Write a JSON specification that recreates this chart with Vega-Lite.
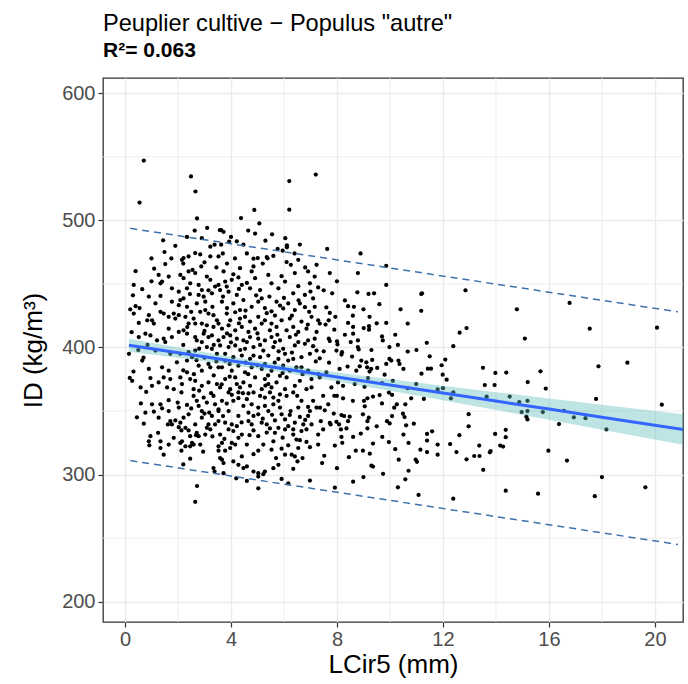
{
"$schema":"https://vega.github.io/schema/vega-lite/v6.json",
"width":580,"height":544,
"autosize":{"type":"none"},
"padding":{"left":103,"top":78,"right":5,"bottom":62},
"background":"white",
"config":{
 "font":"Liberation Sans",
 "view":{"stroke":"#333333","strokeWidth":1.3},
 "axis":{"grid":true,"gridColor":"#ebebeb","gridWidth":1.4,"domain":false,"tickColor":"#333333","tickWidth":1.2,"tickSize":5,"labelColor":"#4d4d4d","labelFontSize":20,"labelPadding":3,"titleFontSize":26,"titleFontWeight":"normal","titleColor":"#000000"}
},
"title":{"text":"Peuplier cultive − Populus \"autre\"","subtitle":"R²= 0.063","anchor":"start","frame":"group","fontSize":23.6,"fontWeight":"normal","color":"#000000","subtitleFontSize":21,"subtitleFontWeight":"bold","subtitleColor":"#000000","subtitlePadding":4,"offset":17},
"datasets":{
"gx":[{"lcir":2},{"lcir":6},{"lcir":10},{"lcir":14},{"lcir":18}],
"gy":[{"id":250},{"id":350},{"id":450},{"id":550}],
"fit":[{"lcir":0.15,"fit":401.7,"clo":396.6,"chi":406.8},{"lcir":2,"fit":395.9,"clo":391.9,"chi":399.9},{"lcir":4,"fit":389.5,"clo":386.3,"chi":392.7},{"lcir":6,"fit":383.2,"clo":380.2,"chi":386.2},{"lcir":8,"fit":376.8,"clo":373.3,"chi":380.3},{"lcir":10,"fit":370.5,"clo":366,"chi":375},{"lcir":12,"fit":364.2,"clo":358.5,"chi":369.9},{"lcir":14,"fit":357.8,"clo":350.8,"chi":364.8},{"lcir":16,"fit":351.5,"clo":343.1,"chi":359.9},{"lcir":18,"fit":345.1,"clo":335.3,"chi":354.9},{"lcir":20,"fit":338.8,"clo":327.5,"chi":350.1},{"lcir":21.1,"fit":335.3,"clo":323.2,"chi":347.4}],
"pi":[{"lcir":0.2,"lwr":311,"upr":493.7},{"lcir":20.87,"lwr":245,"upr":428}],
"pts":[
{"lcir":0.71,"id":547},{"lcir":0.55,"id":514},{"lcir":2.49,"id":534.6},{"lcir":2.66,"id":522.7},{"lcir":2.72,"id":501.5},{"lcir":2.63,"id":492},{"lcir":2.34,"id":487},{"lcir":1.44,"id":484.3},{"lcir":1.49,"id":475.1},{"lcir":3.58,"id":492.3},{"lcir":3.22,"id":479.3},{"lcir":3.38,"id":480.9},{"lcir":2.65,"id":474.3},{"lcir":2.84,"id":473.2},{"lcir":2.4,"id":471.6},{"lcir":2.21,"id":470.3},{"lcir":3.22,"id":471.6},{"lcir":1.52,"id":465.6},{"lcir":2.88,"id":463.7},{"lcir":2.15,"id":469},{"lcir":3.53,"id":471.6},
{"lcir":7.2,"id":536},{"lcir":6.2,"id":530.9},{"lcir":6.2,"id":508.4},{"lcir":4.88,"id":508.2},{"lcir":4.38,"id":501.8},{"lcir":5.07,"id":497.6},{"lcir":4.91,"id":489.6},{"lcir":3.63,"id":492.3},{"lcir":3.72,"id":491},{"lcir":4.22,"id":483.5},{"lcir":3.93,"id":483.3},{"lcir":4.47,"id":480.9},{"lcir":3.63,"id":480.9},{"lcir":5.76,"id":477.5},{"lcir":5.95,"id":476.1},{"lcir":6.11,"id":480.4},{"lcir":6.11,"id":478.8},{"lcir":3.69,"id":474},{"lcir":4.85,"id":469.8},{"lcir":5.01,"id":470.3},{"lcir":5.35,"id":471.1},{"lcir":5.38,"id":470.1},{"lcir":6.1,"id":467.2},{"lcir":6.54,"id":469},{"lcir":6.26,"id":465},{"lcir":7.23,"id":465},{"lcir":4.34,"id":462.4},{"lcir":4.85,"id":463.7},
{"lcir":7.63,"id":477.5},{"lcir":8.89,"id":474},{"lcir":9.86,"id":464.2},
{"lcir":1.27,"id":457.1},{"lcir":1.4,"id":451.8},{"lcir":1.34,"id":450.5},{"lcir":2.09,"id":457.1},{"lcir":2.21,"id":454.5},{"lcir":2.4,"id":459.8},{"lcir":2.65,"id":458.5},{"lcir":2.46,"id":450.5},{"lcir":2.78,"id":449.2},{"lcir":3.09,"id":455.8},{"lcir":3.22,"id":453.2},{"lcir":2.9,"id":445.2},{"lcir":2.78,"id":441.3},{"lcir":2.97,"id":439.9},{"lcir":3.4,"id":447.9},{"lcir":3.53,"id":449.2},{"lcir":0.33,"id":449.2},{"lcir":0.65,"id":445.8},{"lcir":1.77,"id":446.5},{"lcir":2.03,"id":443.9},{"lcir":1.34,"id":440.5},{"lcir":1.77,"id":436},{"lcir":2.09,"id":437.3},{"lcir":2.21,"id":438.6},{"lcir":2.03,"id":433.3},{"lcir":2.34,"id":432},{"lcir":2.71,"id":434.6},{"lcir":0.4,"id":432.5},{"lcir":0.33,"id":426.7},{"lcir":0.9,"id":425.4},{"lcir":0.84,"id":421.4},{"lcir":0.52,"id":419.3},{"lcir":1.02,"id":421.4},{"lcir":1.09,"id":418.8},{"lcir":1.34,"id":428},{"lcir":1.46,"id":426.7},{"lcir":1.65,"id":424.1},{"lcir":1.84,"id":426.7},{"lcir":1.9,"id":422.7},{"lcir":2.03,"id":425.4},{"lcir":2.28,"id":424.1},{"lcir":2.59,"id":422.7},{"lcir":2.84,"id":428},{"lcir":3.03,"id":429.4},{"lcir":3.15,"id":426.7},{"lcir":3.34,"id":425.4},{"lcir":3.47,"id":421.4},{"lcir":2.65,"id":418.8},{"lcir":2.9,"id":418.8},{"lcir":3.09,"id":417.4},{"lcir":3.34,"id":416.1},{"lcir":3.53,"id":418.8},{"lcir":2.03,"id":412.2},{"lcir":2.21,"id":413.5},{"lcir":2.34,"id":410.8},{"lcir":1.77,"id":408.2},{"lcir":1.52,"id":404.2},{"lcir":1.21,"id":405.5},{"lcir":0.96,"id":409.5},{"lcir":0.77,"id":410.8},{"lcir":0.52,"id":408.2},{"lcir":1.46,"id":406.9},{"lcir":2.65,"id":408.2},{"lcir":2.71,"id":405.5},{"lcir":2.9,"id":404.2},{"lcir":3.15,"id":408.2},{"lcir":3.28,"id":409.5},{"lcir":3.53,"id":405.5},{"lcir":3.09,"id":400.3},{"lcir":3.28,"id":398.9},{"lcir":3.47,"id":395},{"lcir":1.71,"id":395},{"lcir":2.09,"id":395},{"lcir":2.4,"id":396.3},{"lcir":2.53,"id":392.3},{"lcir":1.96,"id":388.3},{"lcir":2.34,"id":389.7},{"lcir":2.78,"id":385.7},{"lcir":3.15,"id":387},{"lcir":3.22,"id":384.4},{"lcir":3.53,"id":384.4},{"lcir":1.4,"id":384.4},{"lcir":0.9,"id":383.1},{"lcir":1.46,"id":376.4},{"lcir":1.71,"id":375.1},{"lcir":1.27,"id":372.5},{"lcir":2.09,"id":376.4},{"lcir":2.15,"id":371.2},{"lcir":2.46,"id":375.1},{"lcir":2.65,"id":373.8},{"lcir":2.9,"id":369.8},{"lcir":3.15,"id":372.5},{"lcir":0.27,"id":373.8},{"lcir":0.96,"id":375.9},{"lcir":0.59,"id":368.5},{"lcir":1.59,"id":368.5},{"lcir":1.84,"id":367.2},{"lcir":3.47,"id":371.2},
{"lcir":1.65,"id":455.8},{"lcir":2.34,"id":446.5},{"lcir":3.28,"id":442.6},{"lcir":1.15,"id":434.6},{"lcir":3.03,"id":436},{"lcir":2.4,"id":418.8},{"lcir":1.65,"id":414.8},{"lcir":2.97,"id":410.8},{"lcir":1.15,"id":397.6},{"lcir":2.65,"id":397.6},{"lcir":1.65,"id":381.7},{"lcir":2.9,"id":381.7},{"lcir":2.34,"id":380.4},{"lcir":0.65,"id":389.7},{"lcir":0.15,"id":395},{"lcir":1.02,"id":369.8},{"lcir":2.59,"id":367.2},
{"lcir":3.72,"id":459.8},{"lcir":4.09,"id":457.5},{"lcir":4.28,"id":455.1},{"lcir":4.78,"id":459.8},{"lcir":5.41,"id":457.1},{"lcir":5.91,"id":456.1},{"lcir":6.41,"id":458.5},{"lcir":6.91,"id":459.8},{"lcir":7.16,"id":455.8},{"lcir":3.78,"id":451.8},{"lcir":4.03,"id":453.2},{"lcir":4.6,"id":450.8},{"lcir":4.91,"id":454.5},{"lcir":5.53,"id":450.5},{"lcir":6.04,"id":451.8},{"lcir":6.54,"id":448.2},{"lcir":6.98,"id":450.5},{"lcir":7.29,"id":447.2},{"lcir":3.59,"id":445.2},{"lcir":3.91,"id":443.9},{"lcir":4.22,"id":441.3},{"lcir":4.72,"id":446.5},{"lcir":5.16,"id":438.6},{"lcir":5.72,"id":436},{"lcir":6.16,"id":434.6},{"lcir":6.79,"id":441.3},{"lcir":7.1,"id":438.6},{"lcir":3.66,"id":436},{"lcir":4.09,"id":434.6},{"lcir":4.47,"id":437.3},{"lcir":4.78,"id":432},{"lcir":5.28,"id":431},{"lcir":5.53,"id":428.4},{"lcir":5.97,"id":430.7},{"lcir":6.41,"id":429.4},{"lcir":6.79,"id":431.7},{"lcir":7.16,"id":432},{"lcir":3.84,"id":426.7},{"lcir":4.16,"id":427.7},{"lcir":4.34,"id":422.7},{"lcir":4.53,"id":424.1},{"lcir":4.72,"id":420.4},{"lcir":5.03,"id":424.1},{"lcir":5.28,"id":421.4},{"lcir":5.66,"id":425.1},{"lcir":5.91,"id":421.4},{"lcir":6.22,"id":422.7},{"lcir":6.66,"id":420.4},{"lcir":7.04,"id":424.1},{"lcir":7.29,"id":421.4},{"lcir":3.66,"id":414.8},{"lcir":3.91,"id":417.4},{"lcir":4.16,"id":413.5},{"lcir":4.41,"id":416.1},{"lcir":4.66,"id":412.2},{"lcir":4.91,"id":414.8},{"lcir":5.16,"id":418.8},{"lcir":5.47,"id":413.5},{"lcir":5.72,"id":416.1},{"lcir":6.1,"id":413.5},{"lcir":6.35,"id":416.1},{"lcir":6.85,"id":414.8},{"lcir":7.23,"id":412.2},{"lcir":3.72,"id":408.2},{"lcir":3.97,"id":409.5},{"lcir":4.22,"id":406.9},{"lcir":4.47,"id":405.5},{"lcir":4.72,"id":408.2},{"lcir":5.03,"id":406.9},{"lcir":5.28,"id":405.5},{"lcir":5.53,"id":408.2},{"lcir":5.85,"id":405.5},{"lcir":6.22,"id":408.2},{"lcir":6.54,"id":404.2},{"lcir":6.91,"id":405.5},{"lcir":7.16,"id":406.9},{"lcir":3.59,"id":401.6},{"lcir":3.91,"id":400.3},{"lcir":4.16,"id":401.6},{"lcir":4.53,"id":398.9},{"lcir":4.85,"id":400.3},{"lcir":5.22,"id":397.6},{"lcir":5.6,"id":400.3},{"lcir":5.97,"id":398.9},{"lcir":6.41,"id":401.6},{"lcir":6.79,"id":402.9},{"lcir":7.23,"id":397.6},{"lcir":3.78,"id":395},{"lcir":4.09,"id":392.3},{"lcir":4.41,"id":393.6},{"lcir":4.72,"id":391},{"lcir":5.1,"id":392.3},{"lcir":5.41,"id":393.6},{"lcir":5.79,"id":391},{"lcir":6.16,"id":389.7},{"lcir":6.66,"id":392.3},{"lcir":6.98,"id":395},{"lcir":3.66,"id":384.4},{"lcir":4.03,"id":381.7},{"lcir":4.28,"id":385.7},{"lcir":4.78,"id":384.4},{"lcir":5.16,"id":383.1},{"lcir":5.53,"id":381.7},{"lcir":5.97,"id":385.7},{"lcir":6.47,"id":384.4},{"lcir":6.91,"id":381.7},{"lcir":3.78,"id":375.1},{"lcir":4.16,"id":376.4},{"lcir":4.47,"id":372.5},{"lcir":4.91,"id":376.4},{"lcir":5.28,"id":375.1},{"lcir":5.72,"id":372.5},{"lcir":6.1,"id":376.4},{"lcir":6.6,"id":373.8},{"lcir":7.04,"id":375.1},{"lcir":7.29,"id":379.1},{"lcir":3.59,"id":368.5},{"lcir":3.97,"id":367.2},{"lcir":4.34,"id":368.5},{"lcir":4.72,"id":369.8},{"lcir":5.16,"id":367.2},{"lcir":5.53,"id":368.5},{"lcir":6.04,"id":367.2},{"lcir":6.41,"id":369.8},{"lcir":6.85,"id":367.2},
{"lcir":3.84,"id":447.9},{"lcir":4.41,"id":449.2},{"lcir":5.1,"id":445.2},{"lcir":5.79,"id":446.5},{"lcir":6.35,"id":442.6},{"lcir":4.34,"id":429.4},{"lcir":5.03,"id":436},{"lcir":6.6,"id":434.6},{"lcir":3.97,"id":421.4},{"lcir":5.53,"id":418.8},{"lcir":6.54,"id":412.2},{"lcir":4.6,"id":404.2},{"lcir":5.66,"id":404.2},{"lcir":3.78,"id":389.7},{"lcir":5.28,"id":387},{"lcir":6.22,"id":381.7},{"lcir":4.53,"id":380.4},{"lcir":5.85,"id":377.7},{"lcir":4.22,"id":371.2},{"lcir":5.41,"id":371.2},{"lcir":7.04,"id":368.5},{"lcir":6.66,"id":384.4},{"lcir":4.85,"id":393.6},{"lcir":6.04,"id":395},
{"lcir":7.73,"id":458.5},{"lcir":8.79,"id":458.5},{"lcir":9.86,"id":449.2},{"lcir":7.82,"id":442.6},{"lcir":8.77,"id":443.4},{"lcir":9.19,"id":442.1},{"lcir":9.4,"id":442.6},{"lcir":7.6,"id":431.5},{"lcir":7.73,"id":427.2},{"lcir":7.94,"id":424.1},{"lcir":8.42,"id":432.5},{"lcir":8.64,"id":432},{"lcir":9.23,"id":424.1},{"lcir":7.35,"id":418.8},{"lcir":7.57,"id":418},{"lcir":7.69,"id":421.4},{"lcir":8.42,"id":419.3},{"lcir":8.61,"id":416.1},{"lcir":9.01,"id":415.3},{"lcir":9.21,"id":416.7},{"lcir":9.21,"id":414},{"lcir":9.86,"id":419.3},{"lcir":10.67,"id":418.8},{"lcir":8.61,"id":410.8},{"lcir":8.79,"id":405.5},{"lcir":8.52,"id":404.2},{"lcir":7.69,"id":406.9},{"lcir":7.73,"id":405},{"lcir":8.0,"id":404.8},{"lcir":8.02,"id":402.4},{"lcir":9.7,"id":408.7},{"lcir":9.73,"id":405.5},{"lcir":8.79,"id":400.3},{"lcir":8.82,"id":398.4},{"lcir":9.98,"id":400.3},{"lcir":7.98,"id":397.6},{"lcir":8.19,"id":396.3},{"lcir":8.17,"id":394.4},{"lcir":8.57,"id":392.8},{"lcir":10.67,"id":396.8},{"lcir":7.35,"id":391.5},{"lcir":8.92,"id":389.7},{"lcir":9.33,"id":390.2},{"lcir":9.11,"id":388.3},{"lcir":8.86,"id":385.2},{"lcir":9.14,"id":384.4},{"lcir":9.29,"id":383.1},{"lcir":9.23,"id":381},{"lcir":9.52,"id":383.9},{"lcir":9.86,"id":387},{"lcir":9.98,"id":391},{"lcir":10.05,"id":389.7},{"lcir":10.32,"id":389.7},{"lcir":10.36,"id":387},{"lcir":10.51,"id":383.1},{"lcir":8.1,"id":383.1},{"lcir":7.6,"id":380.4},{"lcir":9.8,"id":378.6},{"lcir":7.35,"id":376.4},{"lcir":8.73,"id":381.7},{"lcir":9.17,"id":375.9},{"lcir":8.04,"id":372.5},{"lcir":7.79,"id":368.5},{"lcir":8.23,"id":369.8},{"lcir":8.67,"id":371.2},{"lcir":9.04,"id":369},{"lcir":10.11,"id":373.8},{"lcir":10.67,"id":368},{"lcir":10.99,"id":371.2},
{"lcir":2.13,"id":364.6},{"lcir":1.65,"id":358.5},{"lcir":1.34,"id":355.3},{"lcir":1.4,"id":352.1},{"lcir":1.02,"id":355.3},{"lcir":1.09,"id":349.5},{"lcir":0.77,"id":348.7},{"lcir":0.71,"id":340},{"lcir":1.99,"id":356.6},{"lcir":2.03,"id":352.7},{"lcir":2.34,"id":354.8},{"lcir":2.59,"id":361.9},{"lcir":2.71,"id":358},{"lcir":2.78,"id":354},{"lcir":2.97,"id":360.6},{"lcir":3.09,"id":356.6},{"lcir":3.34,"id":361.9},{"lcir":3.4,"id":355.3},{"lcir":3.53,"id":350},{"lcir":3.28,"id":346.1},{"lcir":3.18,"id":348.7},{"lcir":2.9,"id":344.7},{"lcir":3.15,"id":339.4},{"lcir":3.4,"id":339.4},{"lcir":3.53,"id":342.1},{"lcir":1.71,"id":342.1},{"lcir":1.62,"id":339.4},{"lcir":1.77,"id":339.4},{"lcir":1.9,"id":342.6},{"lcir":2.09,"id":340.8},{"lcir":2.21,"id":344.7},{"lcir":2.28,"id":336.8},{"lcir":2.4,"id":334.7},{"lcir":2.03,"id":337.3},{"lcir":2.13,"id":334.7},{"lcir":2.65,"id":339.4},{"lcir":2.71,"id":332.8},{"lcir":2.68,"id":331},{"lcir":2.78,"id":330.2},{"lcir":3.03,"id":331.5},{"lcir":3.09,"id":336.8},{"lcir":3.22,"id":335.5},{"lcir":1.25,"id":332.8},{"lcir":0.96,"id":330.2},{"lcir":0.9,"id":326.2},{"lcir":0.92,"id":323},{"lcir":1.34,"id":326.2},{"lcir":1.34,"id":320.9},{"lcir":1.46,"id":315.6},{"lcir":1.84,"id":328.9},{"lcir":2.09,"id":324.9},{"lcir":2.15,"id":326.2},{"lcir":2.13,"id":318.8},{"lcir":2.28,"id":322.2},{"lcir":2.46,"id":322.2},{"lcir":2.53,"id":324.9},{"lcir":2.59,"id":323.6},{"lcir":2.84,"id":323.6},{"lcir":2.46,"id":312.5},{"lcir":3.53,"id":322.2},{"lcir":3.59,"id":313},{"lcir":3.34,"id":305.1},{"lcir":3.38,"id":302.4},{"lcir":2.72,"id":291},{"lcir":2.65,"id":278.6},
{"lcir":1.65,"id":350},{"lcir":2.4,"id":347.4},{"lcir":2.9,"id":350},{"lcir":1.27,"id":344.7},{"lcir":2.46,"id":330.2},{"lcir":1.65,"id":323.6},
{"lcir":3.91,"id":364.6},{"lcir":4.03,"id":362.7},{"lcir":4.66,"id":363.8},{"lcir":4.85,"id":364.6},{"lcir":5.1,"id":361.9},{"lcir":5.47,"id":364.6},{"lcir":5.6,"id":360.6},{"lcir":6.1,"id":361.9},{"lcir":6.35,"id":364.6},{"lcir":3.66,"id":358},{"lcir":3.84,"id":355.9},{"lcir":4.09,"id":358},{"lcir":4.28,"id":360.1},{"lcir":4.6,"id":359.3},{"lcir":4.78,"id":355.3},{"lcir":5.28,"id":354},{"lcir":5.6,"id":355.3},{"lcir":5.79,"id":358},{"lcir":6.54,"id":352.7},{"lcir":6.91,"id":353.2},{"lcir":6.98,"id":350},{"lcir":7.23,"id":352.7},{"lcir":3.53,"id":351.3},{"lcir":3.91,"id":350},{"lcir":4.28,"id":346.1},{"lcir":4.66,"id":348.7},{"lcir":4.85,"id":346.1},{"lcir":5.03,"id":347.4},{"lcir":5.41,"id":350},{"lcir":5.91,"id":347.4},{"lcir":6.22,"id":346.9},{"lcir":6.6,"id":345.3},{"lcir":6.91,"id":346.1},{"lcir":3.78,"id":340.8},{"lcir":4.03,"id":339.4},{"lcir":4.22,"id":338.1},{"lcir":4.66,"id":342.1},{"lcir":4.78,"id":339.4},{"lcir":5.16,"id":340.8},{"lcir":5.35,"id":339.4},{"lcir":5.66,"id":342.6},{"lcir":6.04,"id":343.4},{"lcir":6.16,"id":338.1},{"lcir":6.41,"id":340.8},{"lcir":6.73,"id":339.4},{"lcir":3.59,"id":331.5},{"lcir":3.91,"id":335.5},{"lcir":4.09,"id":334.2},{"lcir":4.41,"id":331.5},{"lcir":4.85,"id":334.7},{"lcir":5.47,"id":336.3},{"lcir":5.66,"id":332.8},{"lcir":6.04,"id":335.5},{"lcir":6.35,"id":331.5},{"lcir":6.66,"id":334.2},{"lcir":6.85,"id":335.5},{"lcir":7.29,"id":331.5},{"lcir":6.35,"id":335.5},{"lcir":3.66,"id":324.9},{"lcir":4.03,"id":324.9},{"lcir":4.16,"id":323.6},{"lcir":4.6,"id":323.6},{"lcir":5.22,"id":323.6},{"lcir":5.6,"id":326.2},{"lcir":6.16,"id":323},{"lcir":6.47,"id":327.5},{"lcir":6.85,"id":325.7},{"lcir":6.98,"id":321.5},{"lcir":3.53,"id":318.8},{"lcir":3.78,"id":318.8},{"lcir":3.97,"id":320.9},{"lcir":4.41,"id":314.3},{"lcir":5.03,"id":318.8},{"lcir":5.53,"id":319.6},{"lcir":5.91,"id":320.4},{"lcir":6.04,"id":315.6},{"lcir":6.29,"id":315.6},{"lcir":6.41,"id":314.3},{"lcir":3.66,"id":311.7},{"lcir":3.72,"id":309},{"lcir":4.09,"id":310.3},{"lcir":4.28,"id":307.7},{"lcir":4.47,"id":305.1},{"lcir":4.85,"id":302.4},{"lcir":5.03,"id":301.1},{"lcir":5.22,"id":300.3},{"lcir":5.28,"id":302.4},{"lcir":5.79,"id":307.7},{"lcir":6.35,"id":304.5},{"lcir":6.51,"id":310.3},{"lcir":3.72,"id":301.1},{"lcir":4.6,"id":306.4},{"lcir":5.03,"id":298.4},{"lcir":5.91,"id":296.6},{"lcir":6.16,"id":293.1},{"lcir":6.98,"id":295.3},{"lcir":5.03,"id":289.2},
{"lcir":4.28,"id":364.6},{"lcir":5.28,"id":360.6},{"lcir":5.85,"id":352.7},{"lcir":6.66,"id":358},{"lcir":4.47,"id":354},{"lcir":5.03,"id":352.7},{"lcir":7.04,"id":339.4},{"lcir":5.79,"id":336.8},{"lcir":4.28,"id":328.9},{"lcir":5.03,"id":330.2},{"lcir":6.54,"id":320.9},
{"lcir":7.48,"id":362},{"lcir":8.0,"id":362},{"lcir":8.23,"id":360},{"lcir":9.36,"id":361.4},{"lcir":9.61,"id":362.5},{"lcir":9.96,"id":364.5},{"lcir":10.08,"id":362.7},{"lcir":9.02,"id":358},{"lcir":9.15,"id":360},{"lcir":9.05,"id":353.7},{"lcir":10.26,"id":355.3},{"lcir":10.16,"id":352.6},{"lcir":10.58,"id":355.3},{"lcir":7.67,"id":355.3},{"lcir":7.36,"id":352.6},{"lcir":7.54,"id":350.5},{"lcir":7.88,"id":348},{"lcir":8.17,"id":346.8},{"lcir":8.27,"id":346},{"lcir":8.48,"id":345.5},{"lcir":8.98,"id":347.4},{"lcir":9.2,"id":344.7},{"lcir":10.08,"id":346},{"lcir":10.49,"id":347.9},{"lcir":10.55,"id":345.2},{"lcir":7.39,"id":342},{"lcir":7.73,"id":340.7},{"lcir":7.98,"id":341.5},{"lcir":8.42,"id":342},{"lcir":9.15,"id":342},{"lcir":9.89,"id":342},{"lcir":9.99,"id":340.2},{"lcir":10.61,"id":338.7},{"lcir":7.48,"id":335.5},{"lcir":7.76,"id":339.4},{"lcir":8.08,"id":339.4},{"lcir":8.15,"id":335.5},{"lcir":8.36,"id":336.3},{"lcir":9.15,"id":336.3},{"lcir":7.29,"id":323.6},{"lcir":8.17,"id":329.6},{"lcir":8.61,"id":329.6},{"lcir":8.9,"id":332.3},{"lcir":9.71,"id":329.6},{"lcir":9.96,"id":325.6},{"lcir":10.51,"id":331.5},{"lcir":10.7,"id":324.9},{"lcir":9.36,"id":324.4},{"lcir":7.92,"id":322.8},{"lcir":8.71,"id":318.8},{"lcir":8.98,"id":318.8},{"lcir":9.24,"id":316.4},{"lcir":7.52,"id":314.8},{"lcir":8.45,"id":313.7},{"lcir":7.44,"id":309},{"lcir":9.3,"id":307},{"lcir":9.36,"id":306.3},{"lcir":10.33,"id":311.7},{"lcir":10.97,"id":311.7},{"lcir":9.74,"id":300.6},{"lcir":8.61,"id":294.4},{"lcir":10.58,"id":296.3},{"lcir":7.92,"id":289.7},
{"lcir":11.18,"id":442},{"lcir":11.21,"id":442.6},{"lcir":12.85,"id":445},{"lcir":11.18,"id":428.8},{"lcir":14.79,"id":430},{"lcir":16.78,"id":435},{"lcir":17.54,"id":414.8},{"lcir":20.08,"id":415.6},{"lcir":12.89,"id":415.3},{"lcir":12.63,"id":411.6},{"lcir":15.09,"id":407},{"lcir":11.39,"id":403.7},{"lcir":12.39,"id":401},{"lcir":11.5,"id":393},{"lcir":12.09,"id":390.5},{"lcir":11.43,"id":383.3},{"lcir":11.55,"id":383.3},{"lcir":11.95,"id":386},{"lcir":11.19,"id":379.4},{"lcir":11.99,"id":378.6},{"lcir":12.14,"id":374.6},{"lcir":13.51,"id":384},{"lcir":13.98,"id":380},{"lcir":14.39,"id":380.2},{"lcir":15.68,"id":381.2},{"lcir":17.87,"id":385.2},{"lcir":18.96,"id":388},{"lcir":15.2,"id":372.8},{"lcir":13.58,"id":370.4},{"lcir":13.95,"id":370.4},{"lcir":15.88,"id":367.7},{"lcir":11.8,"id":367},{"lcir":12.0,"id":368},
{"lcir":11.28,"id":359.5},{"lcir":12.3,"id":360},{"lcir":12.39,"id":364.6},{"lcir":13.65,"id":361.4},{"lcir":14.52,"id":361.4},{"lcir":14.88,"id":357},{"lcir":15.19,"id":358},{"lcir":14.97,"id":349.2},{"lcir":15.19,"id":350},{"lcir":15.15,"id":345.5},{"lcir":15.19,"id":343.4},{"lcir":15.77,"id":349.2},{"lcir":16.57,"id":350.2},{"lcir":16.94,"id":345},{"lcir":17.38,"id":344.4},{"lcir":18.17,"id":335.5},{"lcir":17.78,"id":359.5},{"lcir":20.26,"id":355},{"lcir":16.38,"id":339.7},{"lcir":15.98,"id":318.8},{"lcir":16.68,"id":311},{"lcir":18.0,"id":298},{"lcir":19.64,"id":290},{"lcir":17.73,"id":283},{"lcir":15.59,"id":285},{"lcir":14.37,"id":287.3},{"lcir":12.39,"id":281},{"lcir":11.08,"id":284},{"lcir":12.97,"id":347.5},{"lcir":12.97,"id":338},{"lcir":12.62,"id":331},{"lcir":11.59,"id":334},{"lcir":11.4,"id":332},{"lcir":11.4,"id":326.7},{"lcir":11.8,"id":323.6},{"lcir":11.15,"id":319.6},{"lcir":11.4,"id":317.7},{"lcir":11.8,"id":315.6},{"lcir":12.27,"id":324},{"lcir":12.51,"id":317.7},{"lcir":12.89,"id":312},{"lcir":13.18,"id":314.6},{"lcir":13.38,"id":314.6},{"lcir":13.37,"id":322.8},{"lcir":13.52,"id":303.7},{"lcir":13.77,"id":317.5},{"lcir":13.8,"id":318.5},{"lcir":13.97,"id":332},{"lcir":14.37,"id":335.2},{"lcir":14.37,"id":329.4},{"lcir":14.16,"id":322.8},{"lcir":14.27,"id":322},{"lcir":11.02,"id":310},
{"lcir":0.2,"id":430},{"lcir":0.3,"id":441},{"lcir":0.25,"id":412},{"lcir":0.5,"id":398},{"lcir":0.32,"id":381},{"lcir":0.6,"id":356},{"lcir":0.45,"id":345},{"lcir":0.8,"id":365},{"lcir":0.7,"id":392},{"lcir":0.55,"id":431},{"lcir":0.9,"id":440},{"lcir":0.85,"id":402},{"lcir":0.4,"id":460},{"lcir":1.0,"id":452},{"lcir":1.1,"id":462},{"lcir":0.18,"id":376},
{"lcir":2.2,"id":466},{"lcir":2.55,"id":461},{"lcir":3.0,"id":467},{"lcir":3.45,"id":463},{"lcir":3.85,"id":466},{"lcir":4.15,"id":470},{"lcir":4.6,"id":474},{"lcir":5.2,"id":466},{"lcir":5.6,"id":472},{"lcir":6.4,"id":474},{"lcir":6.8,"id":463},{"lcir":4.0,"id":487},{"lcir":4.65,"id":492},{"lcir":5.3,"id":484},{"lcir":5.55,"id":489},{"lcir":6.05,"id":486},{"lcir":6.6,"id":481},{"lcir":2.9,"id":486},{"lcir":3.1,"id":494},{"lcir":1.9,"id":480},{"lcir":1.75,"id":470},{"lcir":1.0,"id":470},
{"lcir":2.45,"id":442},{"lcir":3.15,"id":445},{"lcir":3.7,"id":440},{"lcir":4.3,"id":446},{"lcir":4.95,"id":441},{"lcir":5.45,"id":440},{"lcir":6.0,"id":439},{"lcir":6.55,"id":437},{"lcir":7.0,"id":444},
{"lcir":2.5,"id":428},{"lcir":3.3,"id":432},{"lcir":3.85,"id":431},{"lcir":4.55,"id":429},{"lcir":5.35,"id":427},{"lcir":5.85,"id":433},{"lcir":6.3,"id":425},{"lcir":6.95,"id":428},
{"lcir":2.35,"id":416},{"lcir":3.0,"id":413},{"lcir":3.85,"id":411},{"lcir":4.3,"id":419},{"lcir":5.0,"id":411},{"lcir":5.75,"id":410},{"lcir":6.45,"id":410},{"lcir":6.9,"id":418},
{"lcir":2.2,"id":402},{"lcir":2.8,"id":399},{"lcir":3.35,"id":402},{"lcir":4.0,"id":404},{"lcir":4.35,"id":398},{"lcir":5.1,"id":402},{"lcir":5.8,"id":397},{"lcir":6.3,"id":396},{"lcir":7.1,"id":401},
{"lcir":2.7,"id":390},{"lcir":3.0,"id":392},{"lcir":3.45,"id":389},{"lcir":3.95,"id":387},{"lcir":4.55,"id":388},{"lcir":5.0,"id":386},{"lcir":5.65,"id":388},{"lcir":6.35,"id":391},{"lcir":7.2,"id":389},
{"lcir":2.2,"id":382},{"lcir":2.6,"id":379},{"lcir":3.35,"id":378},{"lcir":3.95,"id":377},{"lcir":4.65,"id":379},{"lcir":5.4,"id":378},{"lcir":5.95,"id":380},{"lcir":6.7,"id":379},
{"lcir":2.8,"id":366},{"lcir":3.25,"id":364},{"lcir":3.65,"id":371},{"lcir":4.45,"id":364},{"lcir":5.3,"id":370},{"lcir":5.85,"id":363},{"lcir":6.5,"id":362},{"lcir":7.1,"id":358},
{"lcir":2.5,"id":352},{"lcir":3.0,"id":348},{"lcir":3.7,"id":346},{"lcir":4.4,"id":341},{"lcir":5.2,"id":344},{"lcir":5.55,"id":347},{"lcir":6.25,"id":350},{"lcir":6.8,"id":343},
{"lcir":3.3,"id":330},{"lcir":3.75,"id":328},{"lcir":4.7,"id":331},{"lcir":5.35,"id":333},{"lcir":5.95,"id":329},{"lcir":6.6,"id":327},{"lcir":2.95,"id":318},{"lcir":4.85,"id":316},{"lcir":5.7,"id":313},{"lcir":6.7,"id":313},{"lcir":2.2,"id":308},{"lcir":4.2,"id":297},{"lcir":5.6,"id":305},{"lcir":4.6,"id":295},
{"lcir":7.5,"id":445},{"lcir":8.0,"id":452},{"lcir":8.3,"id":437},{"lcir":8.6,"id":425},{"lcir":9.0,"id":430},{"lcir":9.6,"id":434},{"lcir":7.9,"id":414},{"lcir":8.3,"id":410},{"lcir":9.5,"id":419},{"lcir":10.2,"id":410},{"lcir":7.5,"id":397},{"lcir":9.3,"id":398},{"lcir":10.3,"id":402},{"lcir":7.7,"id":388},{"lcir":8.4,"id":385},{"lcir":9.7,"id":372},{"lcir":7.9,"id":362},{"lcir":8.6,"id":358},{"lcir":9.7,"id":356},{"lcir":8.2,"id":325},{"lcir":9.5,"id":338},{"lcir":10.2,"id":320},{"lcir":8.0,"id":305},{"lcir":9.0,"id":298},
{"lcir":10.8,"id":360},{"lcir":10.9,"id":340},{"lcir":10.4,"id":430},{"lcir":11.0,"id":398},{"lcir":10.7,"id":303},{"lcir":10.3,"id":290}
]
},
"layer":[
{"data":{"name":"gx"},"mark":{"type":"rule","color":"#ebebeb","strokeWidth":0.9},"encoding":{"x":{"field":"lcir","type":"quantitative","title":"LCir5 (mm)","scale":{"domain":[-0.83,21.06],"nice":false,"zero":false}}}},
{"data":{"name":"gy"},"mark":{"type":"rule","color":"#ebebeb","strokeWidth":0.9},"encoding":{"y":{"field":"id","type":"quantitative","title":"ID (kg/m³)","scale":{"domain":[184,612],"nice":false,"zero":false}}}},
{"data":{"name":"pts"},"mark":{"type":"circle","size":18,"color":"#000000","opacity":1},"encoding":{
 "x":{"field":"lcir","type":"quantitative","title":"LCir5 (mm)","scale":{"domain":[-0.83,21.06],"nice":false,"zero":false},"axis":{"values":[0,4,8,12,16,20],"titlePadding":2,"labelPadding":2}},
 "y":{"field":"id","type":"quantitative","title":"ID (kg/m³)","scale":{"domain":[184,612],"nice":false,"zero":false},"axis":{"values":[200,300,400,500,600],"titlePadding":15}}}},
{"data":{"name":"fit"},"mark":{"type":"area","color":"#5cbbbb","opacity":0.4,"clip":true},"encoding":{"x":{"field":"lcir","type":"quantitative","title":"LCir5 (mm)"},"y":{"field":"clo","type":"quantitative","title":"ID (kg/m³)"},"y2":{"field":"chi"}}},
{"data":{"name":"pi"},"mark":{"type":"line","color":"#3f72ad","strokeWidth":1.5,"strokeDash":[7,5]},"encoding":{"x":{"field":"lcir","type":"quantitative","title":"LCir5 (mm)"},"y":{"field":"upr","type":"quantitative","title":"ID (kg/m³)"}}},
{"data":{"name":"pi"},"mark":{"type":"line","color":"#3f72ad","strokeWidth":1.5,"strokeDash":[7,5]},"encoding":{"x":{"field":"lcir","type":"quantitative","title":"LCir5 (mm)"},"y":{"field":"lwr","type":"quantitative","title":"ID (kg/m³)"}}},
{"data":{"name":"fit"},"mark":{"type":"line","color":"#3366ff","strokeWidth":3,"clip":true},"encoding":{"x":{"field":"lcir","type":"quantitative","title":"LCir5 (mm)"},"y":{"field":"fit","type":"quantitative","title":"ID (kg/m³)"}}}
]
}
